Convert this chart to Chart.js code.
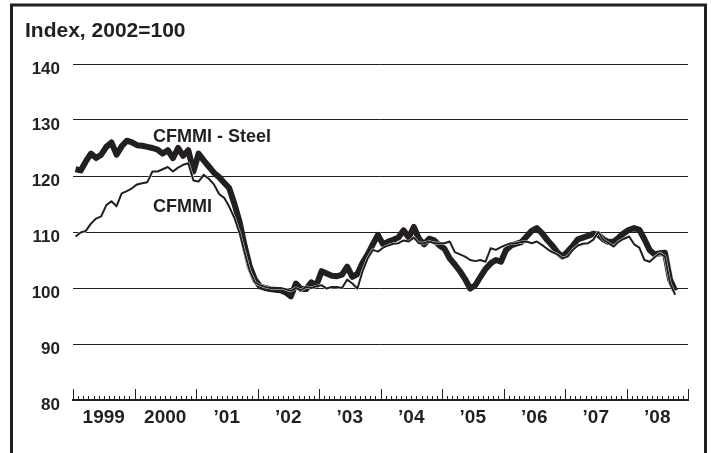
<!DOCTYPE html>
<html>
<head>
<meta charset="utf-8">
<script src="https://cdn.jsdelivr.net/npm/chart.js@4.4.0/dist/chart.umd.min.js"></script>
<style>
  html, body { margin: 0; padding: 0; background: #fff; }
  #wrap { width: 711px; height: 453px; }
</style>
</head>
<body>
<div id="wrap"><canvas id="chart"></canvas></div>
<script>
// Monthly index values, Jan 1999 - Oct 2008 (2002 = 100)
const yearLabels = ["1999", "2000", "\u201901", "\u201902", "\u201903", "\u201904", "\u201905", "\u201906", "\u201907", "\u201908"];
const yTicks = [80, 90, 100, 110, 120, 130, 140];

const steel = [
  121.2, 121.0, 122.6, 124.0, 123.2, 123.8, 125.2, 126.0, 123.8, 125.3, 126.3, 126.0,
  125.5, 125.4, 125.2, 125.0, 124.7, 124.0, 124.6, 123.2, 125.0, 123.6, 124.6, 120.8,
  124.0, 122.8, 121.7, 120.6, 119.8, 118.8, 117.8, 115.0, 111.8, 107.5, 103.8, 101.5,
  100.3, 100.0, 99.8, 99.7, 99.6, 99.2, 98.5, 100.8, 99.8, 99.8, 101.0, 100.5,
  103.0, 102.6, 102.2, 102.1, 102.4, 103.8, 102.0, 102.5, 104.5, 106.0, 107.8, 109.5,
  107.8, 108.3, 108.6, 109.0, 110.3, 109.0, 110.9, 108.8, 107.8, 108.8, 108.5, 107.6,
  107.0, 105.3, 104.2, 103.0, 101.6, 99.9, 100.5, 102.0, 103.4, 104.4, 105.0, 104.7,
  106.8, 107.6, 107.9, 108.2, 109.2, 110.2, 110.7, 109.8, 108.6, 107.6, 106.4, 105.6,
  106.5, 107.5, 108.7, 109.0, 109.3, 109.7, 109.5, 108.7, 108.2, 108.3, 109.0, 109.8,
  110.4, 110.7, 110.4, 108.7, 106.8, 106.0, 106.2, 106.3, 101.5, 99.5
];

const cfmmi = [
  109.2, 109.9, 110.2, 111.5, 112.4, 112.8, 114.8, 115.5, 114.6, 116.9, 117.3, 117.8,
  118.5, 118.7, 118.9, 120.8, 120.8, 121.2, 121.6, 120.8, 121.5, 122.0, 122.3, 119.2,
  119.0, 120.2, 119.5, 118.5, 116.8, 116.1, 114.5, 112.5, 109.8, 106.3, 103.0, 101.0,
  100.5, 100.2, 100.0, 100.0, 100.0, 99.8, 99.5, 100.0, 99.6, 100.2, 100.0, 100.3,
  100.5, 99.9, 100.2, 100.2, 100.0, 101.5, 100.8, 99.9, 103.0, 105.3, 106.8, 106.5,
  107.2, 107.6, 107.9, 108.0, 108.5, 108.3, 109.0, 108.0, 108.0, 108.3, 108.0, 108.0,
  108.0, 108.3, 106.4, 106.0, 105.6, 105.0, 104.8, 105.0, 104.7, 107.1, 106.8, 107.3,
  107.7, 108.0, 108.0, 108.2, 108.3, 108.0, 108.3, 107.7, 107.0, 106.4, 106.0, 105.3,
  105.6, 106.8, 107.6, 107.9, 108.0, 108.6, 110.0, 108.6, 108.0, 107.4, 108.3, 108.8,
  109.2, 107.8, 107.2, 105.0, 104.7, 105.5, 106.2, 105.6, 100.8, 98.8
];

const ink = "#231f20";
const fontFamily = "'Liberation Sans', Arial, sans-serif";

// month i is centred inside its slot on the month axis
function toPoints(values) {
  return values.map((v, i) => ({ x: i + 0.5, y: v }));
}

// frame, title, series labels and the monthly tick marks
const decorations = {
  id: "decorations",
  beforeDraw(chart) {
    const ctx = chart.ctx;
    ctx.save();
    ctx.fillStyle = "#fff";
    ctx.fillRect(0, 0, chart.width, chart.height);
    ctx.restore();
  },
  afterDraw(chart) {
    const ctx = chart.ctx;
    const x = chart.scales.x;
    const y = chart.scales.y;
    const bottom = chart.chartArea.bottom;
    ctx.save();

    // month ticks pointing up from the axis
    ctx.strokeStyle = ink;
    ctx.lineWidth = 1;
    ctx.beginPath();
    for (let m = 0; m <= 120; m++) {
      const px = Math.round(x.getPixelForValue(m)) + 0.5;
      ctx.moveTo(px, bottom);
      ctx.lineTo(px, bottom - (m % 12 === 0 ? 11 : 4));
    }
    ctx.stroke();

    // outer frame (open at the bottom)
    ctx.lineWidth = 3;
    ctx.beginPath();
    ctx.moveTo(11.5, chart.height + 5);
    ctx.lineTo(11.5, 5);
    ctx.lineTo(705.5, 5);
    ctx.lineTo(705.5, chart.height + 5);
    ctx.stroke();

    ctx.fillStyle = ink;
    ctx.textAlign = "left";
    ctx.textBaseline = "alphabetic";
    ctx.font = "bold 21px " + fontFamily;
    ctx.fillText("Index, 2002=100", 25, 37);

    ctx.font = "bold 18px " + fontFamily;
    ctx.fillText("CFMMI - Steel", x.getPixelForValue(15.6), y.getPixelForValue(126.1));
    ctx.fillText("CFMMI", x.getPixelForValue(15.6), y.getPixelForValue(113.6));
    ctx.restore();
  }
};

new Chart(document.getElementById("chart"), {
  type: "line",
  data: {
    datasets: [
      {
        label: "CFMMI - Steel",
        data: toPoints(steel),
        borderColor: ink,
        borderWidth: 6,
        borderJoinStyle: "round",
        pointRadius: 0,
        tension: 0,
        order: 3
      },
      {
        label: "halo",
        data: toPoints(cfmmi),
        borderColor: "#fff",
        borderWidth: 2.8,
        borderJoinStyle: "round",
        pointRadius: 0,
        tension: 0,
        order: 2
      },
      {
        label: "CFMMI",
        data: toPoints(cfmmi),
        borderColor: ink,
        borderWidth: 2,
        borderJoinStyle: "round",
        pointRadius: 0,
        tension: 0,
        order: 1
      }
    ]
  },
  options: {
    responsive: true,
    maintainAspectRatio: false,
    animation: false,
    layout: { padding: { top: 64, right: 23, left: 0, bottom: 0 } },
    plugins: {
      legend: { display: false },
      tooltip: { enabled: false }
    },
    scales: {
      x: {
        type: "linear",
        min: 0,
        max: 120,
        grid: { display: false, drawTicks: false },
        border: { display: true, color: ink, width: 2 },
        afterBuildTicks: s => { s.ticks = yearLabels.map((_, k) => ({ value: 6 + 12 * k })); },
        afterFit: s => { s.height = 53; },
        ticks: {
          autoSkip: false,
          maxRotation: 0,
          padding: 6,
          color: ink,
          font: { family: fontFamily, size: 19, weight: "bold" },
          callback: (v, i) => yearLabels[i]
        }
      },
      y: {
        min: 80,
        max: 140,
        afterBuildTicks: s => { s.ticks = yTicks.map(v => ({ value: v })); },
        afterFit: s => { s.width = 73; },
        grid: {
          drawTicks: false,
          color: c => (c.tick && c.tick.value === 80 ? "rgba(0,0,0,0)" : ink),
          lineWidth: 1
        },
        border: { display: false },
        ticks: {
          padding: 13,
          labelOffset: 5,
          color: ink,
          font: { family: fontFamily, size: 17, weight: "bold" }
        }
      }
    }
  },
  plugins: [decorations]
});
</script>
</body>
</html>
